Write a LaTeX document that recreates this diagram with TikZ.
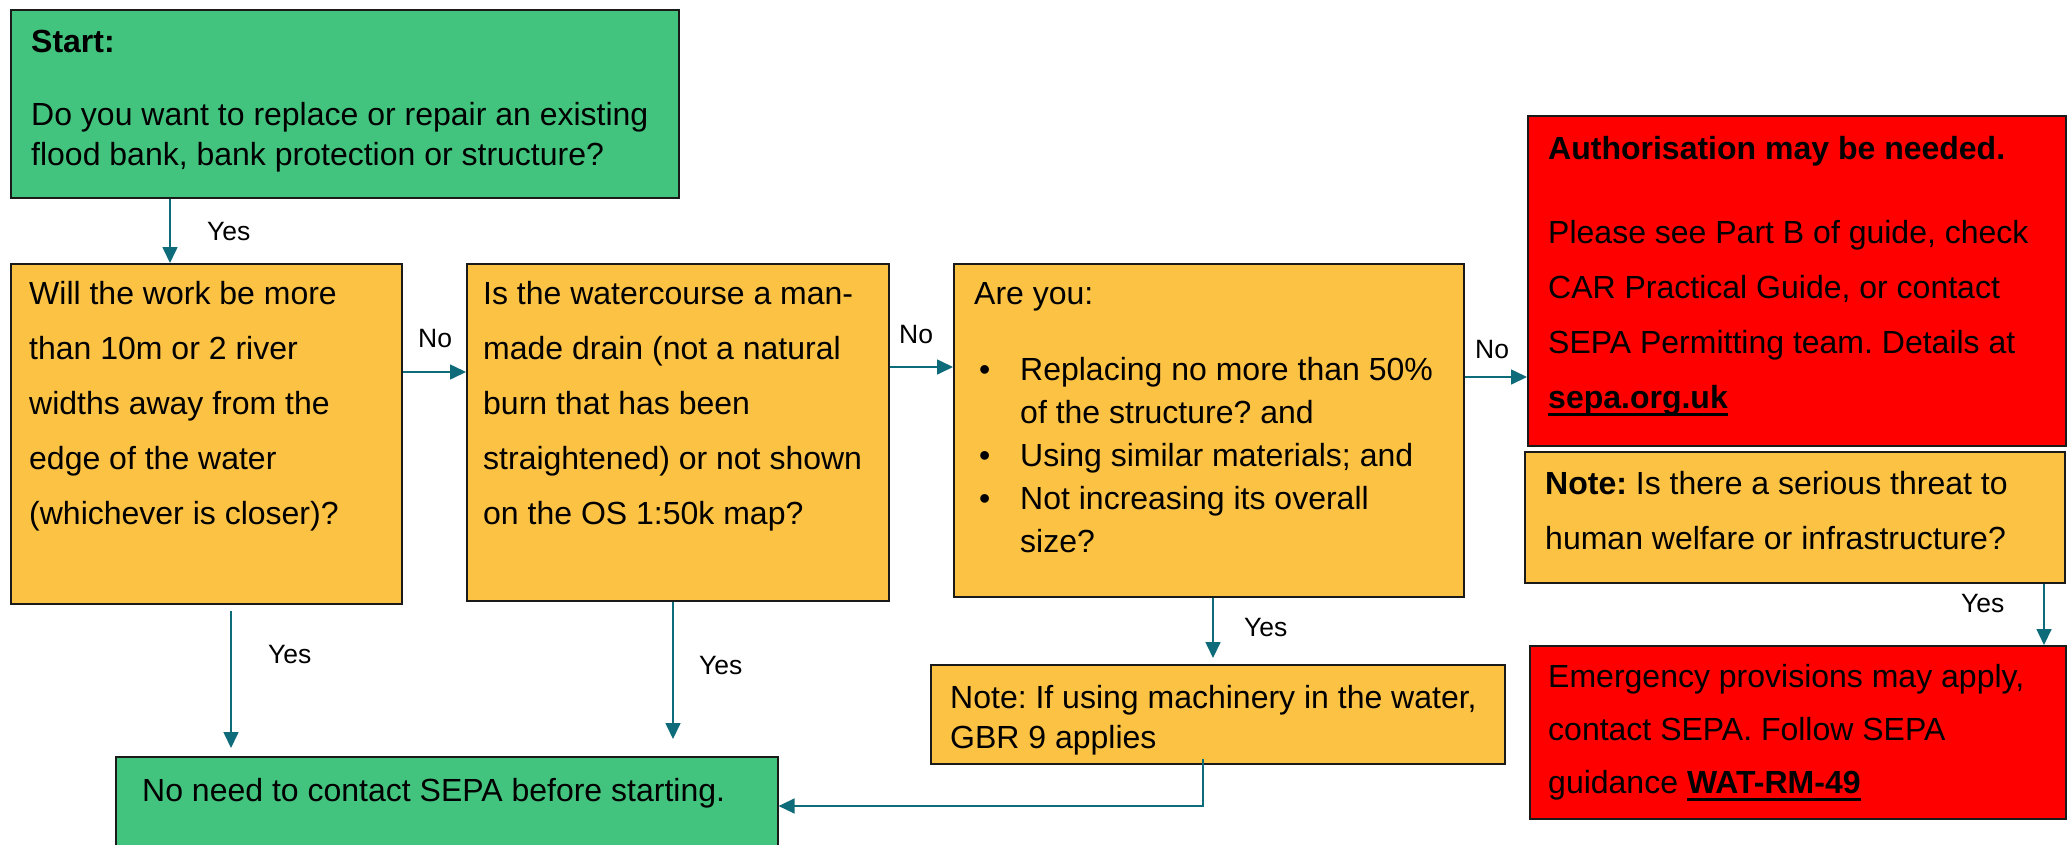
\documentclass[tikz,border=0pt]{standalone}
\usepackage{fontspec}
\setmainfont{Liberation Sans}
\usetikzlibrary{arrows.meta,calc}
\definecolor{cgreen}{HTML}{42C47E}
\definecolor{corange}{HTML}{FCC244}
\definecolor{cred}{HTML}{FF0000}
\definecolor{cteal}{HTML}{0E6B7A}
\definecolor{cedge}{HTML}{1A1A1A}
\newsavebox\ulbox
\newcommand\ulbold[1]{\sbox\ulbox{\bfseries #1}\rlap{\rule[-8pt]{\wd\ulbox}{3pt}}\usebox\ulbox}
\newcommand\bul{\makebox[46pt][l]{\hspace{5pt}\textbullet}}
\newcommand\ind{\hspace*{46pt}}
\frenchspacing
\begin{document}
\begin{tikzpicture}[x=1pt,y=-1pt,
  box/.style={draw=cedge,line width=1.6pt,anchor=north west,inner sep=0pt,rectangle},
  txt/.style={anchor=base west,inner sep=0pt,align=left,font=\fontsize{32}{55}\selectfont},
  lbl/.style={anchor=base west,inner sep=0pt,font=\fontsize{26.5}{30}\selectfont},
  arr/.style={draw=cteal,line width=1.6pt,-{Triangle[length=16pt,width=15pt]}}]
\useasboundingbox (0,0) rectangle (2069,844);
\fill[white] (0,0) rectangle (2069,844);
\clip (0,0) rectangle (2069,844);
% boxes
\node[box,fill=cgreen,minimum width=668pt,minimum height=188pt] (start) at (10,9) {};
\node[box,fill=corange,minimum width=391pt,minimum height=340pt] (b1) at (10,263) {};
\node[box,fill=corange,minimum width=422pt,minimum height=337pt] (b2) at (466,263) {};
\node[box,fill=corange,minimum width=510pt,minimum height=333pt] (b3) at (953,263) {};
\node[box,fill=cred,minimum width=538pt,minimum height=330pt] (red1) at (1527,115) {};
\node[box,fill=corange,minimum width=540pt,minimum height=131pt] (note) at (1524,451) {};
\node[box,fill=cred,minimum width=536pt,minimum height=173pt] (red2) at (1529,645) {};
\node[box,fill=corange,minimum width=574pt,minimum height=99pt] (gbr) at (930,664) {};
\node[box,fill=cgreen,minimum width=662pt,minimum height=120pt] (done) at (115,756) {};
% texts (anchored at the baseline of their last line)
\node[txt,font=\fontsize{32}{40}\selectfont] (start-t) at (31,165) {\textbf{Start:}\\[33pt]Do you want to replace or repair an existing\\flood bank, bank protection or structure?};
\node[txt] (b1-t) at (29,524) {Will the work be more\\than 10m or 2 river\\widths away from the\\edge of the water\\(whichever is closer)?};
\node[txt] (b2-t) at (483,524) {Is the watercourse a man-\\made drain (not a natural\\burn that has been\\straightened) or not shown\\on the OS 1:50k map?};
\node[txt,font=\fontsize{32}{43}\selectfont] (b3-t) at (974,552) {Are you:\\[33pt]\bul Replacing no more than 50\%\\\ind of the structure? and\\\bul Using similar materials; and\\\bul Not increasing its overall\\\ind size?};
\node[txt] (red1-t) at (1548,408) {\textbf{Authorisation may be needed.}\\[29pt]Please see Part B of guide, check\\CAR Practical Guide, or contact\\SEPA Permitting team. Details at\\\ulbold{sepa.org.uk}};
\node[txt] (note-t) at (1545,549) {\textbf{Note:} Is there a serious threat to\\human welfare or infrastructure?};
\node[txt,font=\fontsize{32}{53}\selectfont] (red2-t) at (1548,793) {Emergency provisions may apply,\\contact SEPA. Follow SEPA\\guidance \ulbold{WAT-RM-49}};
\node[txt,font=\fontsize{32}{40}\selectfont] (gbr-t) at (950,748) {Note: If using machinery in the water,\\GBR 9 applies};
\node[txt] (done-t) at (142,801) {No need to contact SEPA before starting.};
% connectors
\draw[arr] ([xshift=160pt]start.south west) -- ([xshift=160pt]start.south west |- b1.north);
\draw[arr] (b1.east |- 0,372) -- (b2.west |- 0,372);
\draw[arr] (b2.east |- 0,367) -- (b3.west |- 0,367);
\draw[arr] (b3.east |- 0,377) -- (red1.west |- 0,377);
\coordinate (y1s) at (231,611);
\coordinate (y1e) at (231,748);
\draw[arr] (y1s) -- (y1e);
\draw[arr] ([xshift=207pt]b2.south west) -- ([xshift=207pt]b2.south west |- 0,739);
\draw[arr] ([xshift=260pt]b3.south west) -- ([xshift=260pt]b3.south west |- 0,658);
\draw[arr] ([xshift=520pt]note.south west) -- ([xshift=520pt]note.south west |- red2.north);
\draw[arr] ([xshift=273pt,yshift=6pt]gbr.south west) -- ([xshift=273pt]gbr.south west |- 0,806) -- (done.east |- 0,806);
% labels
\node[lbl] (l1) at (207,240) {Yes};
\node[lbl] (l2) at (418,347) {No};
\node[lbl] (l3) at (899,343) {No};
\node[lbl] (l4) at (1475,358) {No};
\node[lbl] (l5) at (268,663) {Yes};
\node[lbl] (l6) at (699,674) {Yes};
\node[lbl] (l7) at (1244,636) {Yes};
\node[lbl] (l8) at (1961,612) {Yes};
\end{tikzpicture}
\end{document}
